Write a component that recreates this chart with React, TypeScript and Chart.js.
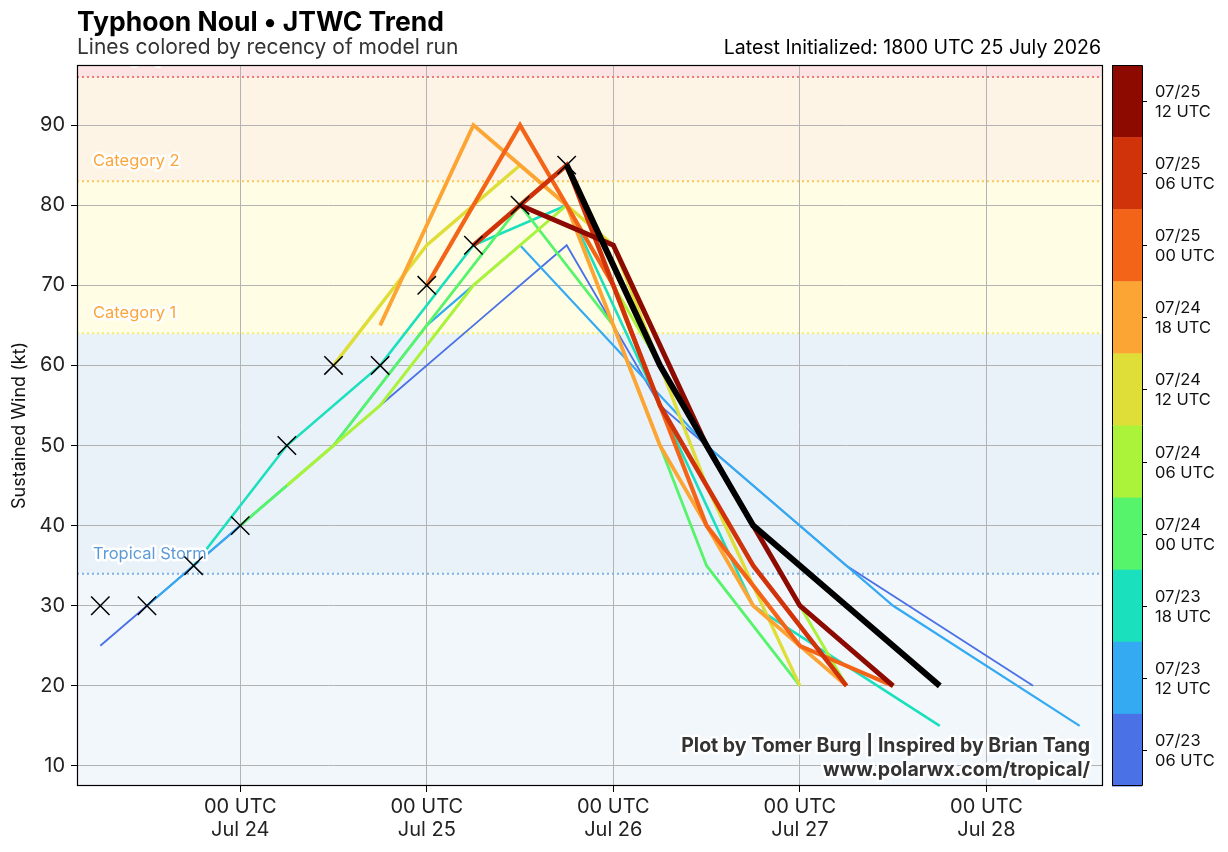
import React, { useEffect, useRef } from "react";
import { Chart, registerables } from "chart.js";

Chart.register(...registerables);

const FONT = "Inter, 'Noto Sans', 'DejaVu Sans', sans-serif";

// Time axis is in hours after 00 UTC 23 July 2026
const X_MIN = 3;
const X_MAX = 135;
const Y_MIN = 7.5;
const Y_MAX = 97.5;

const DAY_TICKS = [24, 48, 72, 96, 120];
const DAY_TICK_LABELS = [
  ["00 UTC", "Jul 24"],
  ["00 UTC", "Jul 25"],
  ["00 UTC", "Jul 26"],
  ["00 UTC", "Jul 27"],
  ["00 UTC", "Jul 28"],
];
const WIND_TICKS = [10, 20, 30, 40, 50, 60, 70, 80, 90];

// Intensity bands (kt) and their fills
const BAND_EDGES = [Y_MIN, 34, 64, 83, 96, Y_MAX];
const BAND_FILLS = ["#f2f7fc", "#e9f1f9", "#fffee4", "#fdf4e5", "#fce4e4"];

// Category thresholds
const THRESHOLD_VALUES = [34, 64, 83, 96];
const THRESHOLD_NAMES = ["Tropical Storm", "Category 1", "Category 2", "Category 3"];
const THRESHOLD_LINE_COLORS = ["#7db1e3", "#f2ee6a", "#ffc654", "#f07a7a"];
const THRESHOLD_TEXT_COLORS = ["#5b9ad8", "#fba63a", "#fba63a", "#e8323c"];

// Best track (hours, kt)
const BEST_HOURS = [6, 12, 18, 24, 30, 36, 42, 48, 54, 60, 66];
const BEST_WINDS = [30, 30, 35, 40, 50, 60, 60, 70, 75, 80, 85];

// Forecast runs, oldest first
const RUN_0723_06_HOURS = [6, 18, 30, 42, 54, 66, 78, 102, 126];
const RUN_0723_06_WINDS = [25, 35, 45, 55, 65, 75, 55, 35, 20];
const RUN_0723_12_HOURS = [12, 24, 36, 48, 60, 84, 108, 132];
const RUN_0723_12_WINDS = [30, 40, 50, 65, 75, 50, 30, 15];
const RUN_0723_18_HOURS = [18, 30, 42, 54, 66, 90, 114];
const RUN_0723_18_WINDS = [35, 50, 60, 75, 80, 30, 15];
const RUN_0724_00_HOURS = [24, 36, 48, 60, 72, 84, 96];
const RUN_0724_00_WINDS = [40, 50, 65, 80, 65, 35, 20];
const RUN_0724_06_HOURS = [30, 42, 54, 66, 78, 90, 102];
const RUN_0724_06_WINDS = [45, 55, 70, 80, 60, 40, 20];
const RUN_0724_12_HOURS = [36, 48, 60, 72, 84, 96];
const RUN_0724_12_WINDS = [60, 75, 85, 75, 45, 20];
const RUN_0724_18_HOURS = [42, 54, 66, 78, 90, 102];
const RUN_0724_18_WINDS = [65, 90, 80, 50, 30, 20];
const RUN_0725_00_HOURS = [48, 60, 72, 84, 96, 108];
const RUN_0725_00_WINDS = [70, 90, 70, 40, 25, 20];
const RUN_0725_06_HOURS = [54, 66, 78, 90, 102];
const RUN_0725_06_WINDS = [75, 85, 55, 35, 20];
const RUN_0725_12_HOURS = [60, 72, 84, 96, 108];
const RUN_0725_12_WINDS = [80, 75, 50, 30, 20];

// Latest run, drawn in black
const RUN_0725_18_HOURS = [66, 78, 90, 102, 114];
const RUN_0725_18_WINDS = [85, 60, 40, 30, 20];

const RUN_DATES = ["07/23", "07/23", "07/23", "07/24", "07/24", "07/24", "07/24", "07/25", "07/25", "07/25"];
const RUN_CYCLES = ["06 UTC", "12 UTC", "18 UTC", "00 UTC", "06 UTC", "12 UTC", "18 UTC", "00 UTC", "06 UTC", "12 UTC"];
const RUN_COLORS = [
  "#4a71e6",
  "#33aaf2",
  "#1be0be",
  "#56f46b",
  "#aaf33a",
  "#dfde38",
  "#fda534",
  "#f46418",
  "#d0330a",
  "#8c0a00",
];
const RUN_WIDTHS = [1.8, 2.2, 2.6, 2.8, 3.0, 3.4, 3.8, 4.2, 4.6, 5.0];

const RUN_HOURS = [
  RUN_0723_06_HOURS, RUN_0723_12_HOURS, RUN_0723_18_HOURS, RUN_0724_00_HOURS, RUN_0724_06_HOURS,
  RUN_0724_12_HOURS, RUN_0724_18_HOURS, RUN_0725_00_HOURS, RUN_0725_06_HOURS, RUN_0725_12_HOURS,
];
const RUN_WINDS = [
  RUN_0723_06_WINDS, RUN_0723_12_WINDS, RUN_0723_18_WINDS, RUN_0724_00_WINDS, RUN_0724_06_WINDS,
  RUN_0724_12_WINDS, RUN_0724_18_WINDS, RUN_0725_00_WINDS, RUN_0725_06_WINDS, RUN_0725_12_WINDS,
];

const toPoints = (hours: number[], winds: number[]) => hours.map((h, i) => ({ x: h, y: winds[i] }));

function haloText(ctx: CanvasRenderingContext2D, text: string, x: number, y: number, fill: string, halo = 4) {
  ctx.lineJoin = "round";
  ctx.strokeStyle = "#ffffff";
  ctx.lineWidth = halo;
  ctx.strokeText(text, x, y);
  ctx.fillStyle = fill;
  ctx.fillText(text, x, y);
}

const bandsPlugin = {
  id: "intensityBands",
  beforeDraw(chart: any) {
    const { ctx, chartArea: a, scales } = chart;
    const y = scales.y;
    ctx.save();
    ctx.fillStyle = "#ffffff";
    ctx.fillRect(0, 0, chart.width, chart.height);
    for (let i = 0; i < BAND_FILLS.length; i++) {
      const top = y.getPixelForValue(BAND_EDGES[i + 1]);
      const bottom = y.getPixelForValue(BAND_EDGES[i]);
      ctx.fillStyle = BAND_FILLS[i];
      ctx.fillRect(a.left, top, a.right - a.left, bottom - top);
    }
    ctx.restore();
  },
  beforeDatasetsDraw(chart: any) {
    const { ctx, chartArea: a, scales } = chart;
    const y = scales.y;
    ctx.save();
    ctx.lineWidth = 2;
    ctx.setLineDash([2, 3]);
    THRESHOLD_VALUES.forEach((v, i) => {
      const py = y.getPixelForValue(v);
      ctx.strokeStyle = THRESHOLD_LINE_COLORS[i];
      ctx.beginPath();
      ctx.moveTo(a.left, py);
      ctx.lineTo(a.right, py);
      ctx.stroke();
    });
    ctx.restore();
  },
  afterDatasetDraw(chart: any, args: any) {
    // category labels sit above every forecast line but below the best-track markers
    if (args.index !== RUN_HOURS.length) return;
    const { ctx, chartArea: a, scales } = chart;
    const y = scales.y;
    ctx.save();
    ctx.beginPath();
    ctx.rect(a.left, a.top, a.right - a.left, a.bottom - a.top);
    ctx.clip();
    ctx.font = `16.5px ${FONT}`;
    ctx.textAlign = "left";
    ctx.textBaseline = "middle";
    THRESHOLD_VALUES.forEach((v, i) => {
      const py = y.getPixelForValue(v) - 20;
      haloText(ctx, THRESHOLD_NAMES[i], a.left + 16, py, THRESHOLD_TEXT_COLORS[i], 5);
    });
    ctx.restore();
  },
  afterDraw(chart: any) {
    const { ctx, chartArea: a } = chart;
    ctx.save();
    // plot frame
    ctx.strokeStyle = "#000";
    ctx.lineWidth = 1.2;
    ctx.setLineDash([]);
    ctx.strokeRect(a.left + 0.5, a.top + 0.5, a.right - a.left - 1, a.bottom - a.top - 1);

    // headings
    ctx.textBaseline = "alphabetic";
    ctx.textAlign = "left";
    ctx.fillStyle = "#000";
    ctx.font = `bold 26.5px ${FONT}`;
    ctx.fillText("Typhoon Noul \u2022 JTWC Trend", 77, 31);
    ctx.fillStyle = "#333";
    ctx.font = `21px ${FONT}`;
    ctx.fillText("Lines colored by recency of model run", 77, 54);
    ctx.textAlign = "right";
    ctx.fillStyle = "#000";
    ctx.font = `19.5px ${FONT}`;
    ctx.fillText("Latest Initialized: 1800 UTC 25 July 2026", 1101, 54);

    // credit
    ctx.font = `bold 19.5px ${FONT}`;
    haloText(ctx, "Plot by Tomer Burg | Inspired by Brian Tang", 1090, 752, "#333", 5);
    haloText(ctx, "www.polarwx.com/tropical/", 1090, 776, "#333", 5);

    // run colour bar, newest at top
    const cbLeft = a.right + 9;
    const cbWidth = 30;
    const n = RUN_COLORS.length;
    const segH = (a.bottom - a.top) / n;
    for (let k = 0; k < n; k++) {
      const run = n - 1 - k;
      const top = a.top + k * segH;
      ctx.fillStyle = RUN_COLORS[run];
      ctx.fillRect(cbLeft, top, cbWidth, segH + 0.5);
    }
    ctx.strokeStyle = "#000";
    ctx.lineWidth = 1;
    ctx.strokeRect(cbLeft + 0.5, a.top + 0.5, cbWidth, a.bottom - a.top - 1);
    ctx.font = `16.5px ${FONT}`;
    ctx.textAlign = "left";
    ctx.textBaseline = "middle";
    ctx.fillStyle = "#111";
    for (let k = 0; k < n; k++) {
      const run = n - 1 - k;
      const cy = a.top + (k + 0.5) * segH;
      ctx.beginPath();
      ctx.moveTo(cbLeft + cbWidth + 0.5, Math.round(cy) + 0.5);
      ctx.lineTo(cbLeft + cbWidth + 5, Math.round(cy) + 0.5);
      ctx.stroke();
      ctx.fillText(RUN_DATES[run], cbLeft + 43, cy - 9);
      ctx.fillText(RUN_CYCLES[run], cbLeft + 43, cy + 11);
    }
    ctx.restore();
  },
};

export default function App() {
  const canvasRef = useRef<HTMLCanvasElement | null>(null);

  useEffect(() => {
    document.body.style.margin = "0";
    const canvas = canvasRef.current;
    if (!canvas) return;

    const runDatasets = RUN_HOURS.map((hours, i) => ({
      label: `${RUN_DATES[i]} ${RUN_CYCLES[i]}`,
      data: toPoints(hours, RUN_WINDS[i]),
      borderColor: RUN_COLORS[i],
      backgroundColor: RUN_COLORS[i],
      borderWidth: RUN_WIDTHS[i],
      pointRadius: 0,
      fill: false,
      order: 20 - i,
    }));

    const chart = new Chart(canvas, {
      type: "line",
      data: {
        datasets: [
          ...runDatasets,
          {
            label: "07/25 18 UTC",
            data: toPoints(RUN_0725_18_HOURS, RUN_0725_18_WINDS),
            borderColor: "#000000",
            backgroundColor: "#000000",
            borderWidth: 6,
            pointRadius: 0,
            fill: false,
            order: 1,
          },
          {
            label: "Best track",
            data: toPoints(BEST_HOURS, BEST_WINDS),
            showLine: false,
            pointStyle: "crossRot",
            pointRadius: 13,
            pointBorderWidth: 1.5,
            pointBorderColor: "#000000",
            pointBackgroundColor: "#000000",
            borderColor: "#000000",
            order: 0,
          } as any,
        ],
      },
      options: {
        animation: false,
        responsive: false,
        devicePixelRatio: 1,
        events: [],
        layout: { padding: { top: 65, right: 125, left: 0, bottom: 0 } },
        plugins: {
          legend: { display: false },
          tooltip: { enabled: false },
        },
        scales: {
          x: {
            type: "linear",
            min: X_MIN,
            max: X_MAX,
            afterBuildTicks: (scale: any) => {
              scale.ticks = DAY_TICKS.map((v) => ({ value: v }));
            },
            afterFit: (scale: any) => {
              scale.height = 66;
            },
            ticks: {
              autoSkip: false,
              maxRotation: 0,
              padding: 3,
              color: "#222",
              font: { family: FONT, size: 20, lineHeight: 1.15 },
              callback: (_v: any, idx: number) => DAY_TICK_LABELS[idx],
            },
            grid: { color: "#b3b3b3", lineWidth: 1, tickColor: "#000", tickLength: 6 },
            border: { display: false },
          },
          y: {
            type: "linear",
            min: Y_MIN,
            max: Y_MAX,
            afterBuildTicks: (scale: any) => {
              scale.ticks = WIND_TICKS.map((v) => ({ value: v }));
            },
            afterFit: (scale: any) => {
              scale.width = 77;
            },
            ticks: {
              padding: 6,
              color: "#222",
              font: { family: FONT, size: 20 },
            },
            grid: { color: "#b3b3b3", lineWidth: 1, tickColor: "#000", tickLength: 6 },
            border: { display: false },
            title: {
              display: true,
              text: "Sustained Wind (kt)",
              color: "#111",
              font: { family: FONT, size: 18 },
              padding: { top: 9, bottom: 4 },
            },
          },
        },
      },
      plugins: [bandsPlugin],
    });

    return () => chart.destroy();
  }, []);

  return (
    <div style={{ width: 1228, height: 852 }}>
      <canvas ref={canvasRef} width={1228} height={852} style={{ display: "block" }} />
    </div>
  );
}
